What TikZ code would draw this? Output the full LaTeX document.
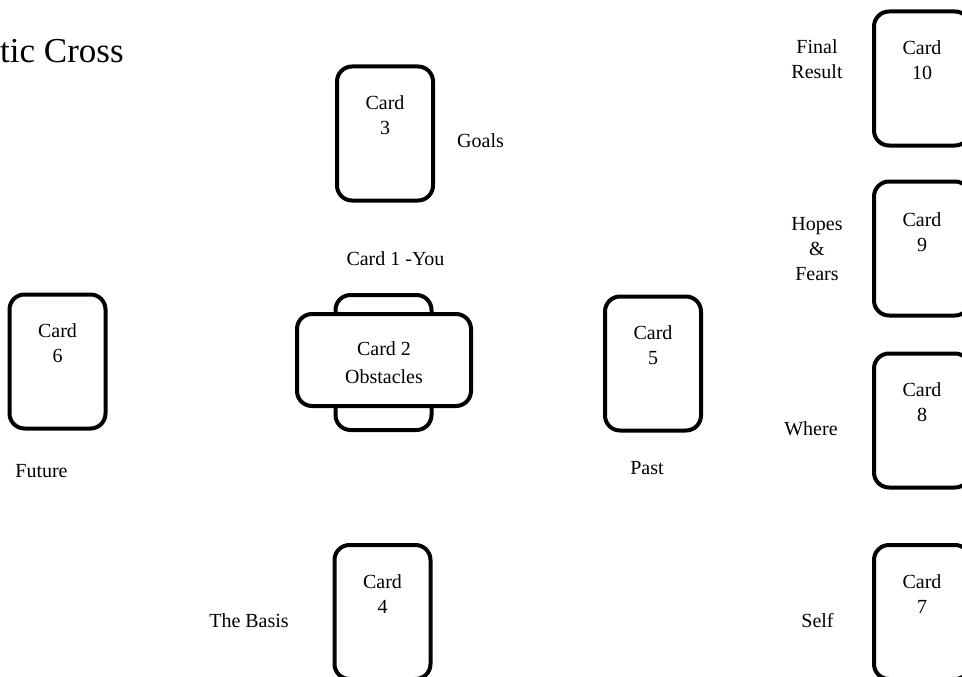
\documentclass[tikz,border=0pt]{standalone}
\usepackage{fontspec}
\setmainfont{Liberation Serif}
\begin{document}
\begin{tikzpicture}[x=1pt,y=-1pt,
  card/.style={draw, line width=4pt, rounded corners=15pt, minimum width=96pt, minimum height=134pt, inner sep=0pt, fill=white},
  txt/.style={font=\fontsize{20}{25}\selectfont, inner sep=0pt, align=center},
  ctxt/.style={txt, anchor=north},
  lbl/.style={txt, anchor=base}]
\useasboundingbox (0,0) rectangle (962,677);
\clip (0,0) rectangle (962,677);

% title
\node[anchor=base west, inner sep=0pt, font=\fontsize{35}{40}\selectfont] (title) at (0,63) {tic Cross};

% cards
\node[card] (c3) at (385,133.5) {};
\node[card, minimum height=135pt] (c1) at (383.5,362.5) {};
\node[card, minimum width=174pt, minimum height=92pt] (c2) at (384,360) {};
\node[card] (c6) at (57.5,361.5) {};
\node[card] (c5) at (653,363.5) {};
\node[card] (c4) at (382.5,612) {};
\node[card] (c10) at (922,78.5) {};
\node[card] (c9) at (922,248.5) {};
\node[card] (c8) at (922,420.5) {};
\node[card] (c7) at (922,612) {};

% card texts
\node[ctxt] (t3) at ([yshift=-31pt]c3.north) {Card\\3};
\node[ctxt] (t6) at ([yshift=-31pt]c6.north) {Card\\6};
\node[ctxt] (t5) at ([yshift=-31pt]c5.north) {Card\\5};
\node[ctxt] (t4) at ([yshift=-31pt]c4.north) {Card\\4};
\node[ctxt] (t10) at ([yshift=-31pt]c10.north) {Card\\10};
\node[ctxt] (t9) at ([yshift=-33pt]c9.north) {Card\\9};
\node[ctxt] (t8) at ([yshift=-31pt]c8.north) {Card\\8};
\node[ctxt] (t7) at ([yshift=-31pt]c7.north) {Card\\7};
\node[txt, font=\fontsize{20}{28}\selectfont, anchor=north] (t2) at (384,341) {Card 2\\Obstacles};

% labels
\node[lbl, anchor=base west] (goals) at (457,147) {Goals};
\node[lbl] (you) at (395.5,265) {Card 1 -You};
\node[lbl] (future) at (41.5,477) {Future};
\node[lbl] (past) at (647,474) {Past};
\node[lbl] (basis) at (249,627) {The Basis};
\node[ctxt] (final) at (817,39.5) {Final\\Result};
\node[ctxt] (hopes) at (817,217) {Hopes\\\&\\Fears};
\node[lbl] (where) at (811,435) {Where};
\node[lbl] (self) at (817.5,627) {Self};
\end{tikzpicture}
\end{document}
